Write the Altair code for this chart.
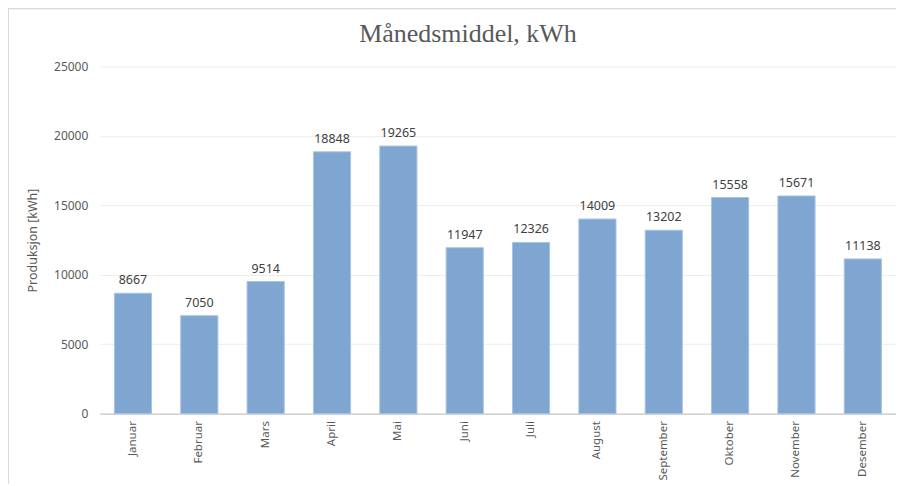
import altair as alt
import pandas as pd

months = ["Januar", "Februar", "Mars", "April", "Mai", "Juni", "Juli",
          "August", "September", "Oktober", "November", "Desember"]
values = [8667, 7050, 9514, 18848, 19265, 11947, 12326, 14009, 13202, 15558, 15671, 11138]
y_ticks = [0, 5000, 10000, 15000, 20000, 25000]
title_text = "Månedsmiddel, kWh"

df = pd.DataFrame({"month": months, "value": values})

x = alt.X("month:N", sort=months, title=None,
          scale=alt.Scale(paddingInner=0.44, paddingOuter=0.22),
          axis=alt.Axis(labelAngle=-90, labelFont="Noto Sans", labelFontSize=11.5,
                        labelColor="#595959", ticks=False, domainColor="#bfbfbf",
                        labelPadding=7, labelAlign="right", labelBaseline="middle"))
y = alt.Y("value:Q", title="Produksjon [kWh]",
          scale=alt.Scale(domain=[0, 25000], nice=False),
          axis=alt.Axis(values=y_ticks, format="d", domain=False, ticks=False, labelPadding=12,
                        labelFont="Noto Sans", labelFontSize=12, labelColor="#595959",
                        gridColor="#ececec", titleFont="Noto Sans", titleFontSize=12.5,
                        titleFontWeight="normal", titleColor="#595959", titlePadding=14))

bars = alt.Chart(df).mark_bar(color="#7fa5d1", stroke="#a8c3e3", strokeWidth=1).encode(x=x, y=y)
labels = alt.Chart(df).mark_text(dy=-13, font="Noto Sans", fontSize=12.5, color="#404040").encode(
    x=alt.X("month:N", sort=months), y="value:Q", text="value:Q")

title = alt.Chart(pd.DataFrame({"t": [title_text]})).mark_text(
    font="Liberation Serif", fontSize=26, color="#595959", align="center", baseline="middle"
).encode(x=alt.value(369), y=alt.value(-32), text="t:N")

frame_l = alt.Chart(df).mark_rule(color="#d9d9d9").encode(
    x=alt.value(-92), y=alt.value(-58), y2=alt.value(420))
frame_t = alt.Chart(df).mark_rule(color="#d9d9d9").encode(
    x=alt.value(-92), x2=alt.value(810), y=alt.value(-58))

chart = alt.layer(frame_l, frame_t, bars, labels, title).properties(
    width=798, height=348,
    autosize=alt.AutoSizeParams(type="none"),
    padding={"left": 92, "top": 58, "right": 0, "bottom": 70},
).configure_view(stroke=None)

chart.save("out.html", embed_options={"renderer": "svg", "actions": False})
